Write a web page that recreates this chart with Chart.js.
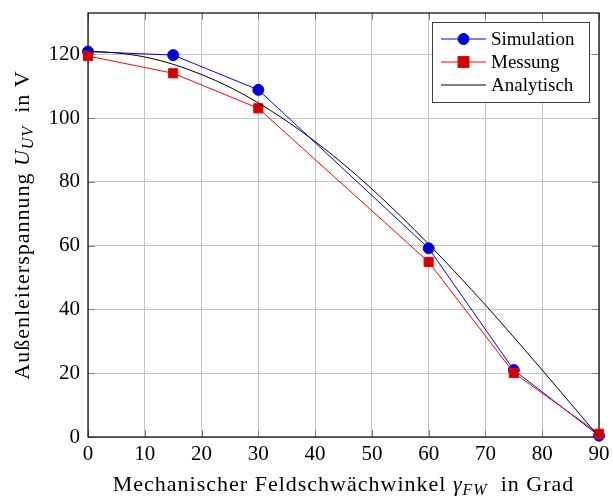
<!DOCTYPE html>
<html lang="de">
<head>
<meta charset="UTF-8">
<title>Außenleiterspannung</title>
<script src="https://cdn.jsdelivr.net/npm/chart.js"></script>
<style>
  html, body { margin: 0; padding: 0; background: #fff; }
  #wrap { width: 613px; height: 497px; }
</style>
</head>
<body>
<div id="wrap"><canvas id="chart" width="613" height="497"></canvas></div>
<script>
// Messpunkte, Winkel in Grad
var winkel = [0, 15, 30, 60, 75, 90];
var simulation = [120.9, 119.8, 108.9, 59.2, 21.0, 0.4];
var messung = [119.5, 114.1, 103.1, 54.9, 20.1, 1.0];

// analytische Kurve (alle 5 Grad)
var winkelAnalytisch = [0, 5, 10, 15, 20, 25, 30, 35, 40, 45, 50, 55, 60, 65, 70, 75, 80, 85, 90];
var analytisch = [121.0, 120.5, 119.2, 116.9, 113.7, 109.7, 104.8, 99.1, 92.7, 85.6, 77.8, 69.4, 60.5, 51.1, 41.4, 31.3, 21.0, 10.5, 0.0];

var xTicks = [0, 10, 20, 30, 40, 50, 60, 70, 80, 90];
var yTicks = [0, 20, 40, 60, 80, 100, 120];

var serif = "'Liberation Serif', 'Times New Roman', serif";
var fs = 21;

function toXY(xs, ys) {
  var out = [];
  for (var i = 0; i < xs.length; i++) out.push({ x: xs[i], y: ys[i] });
  return out;
}

// Text mit Index (z.B. U_UV) zeichnen
function drawMixed(ctx, parts, cx, baseline) {
  var total = 0;
  ctx.letterSpacing = "1px";
  parts.forEach(function (p) {
    ctx.font = p.font;
    p.w = ctx.measureText(p.t).width;
    total += p.w;
  });
  var x = cx - total / 2;
  ctx.textBaseline = "alphabetic";
  ctx.textAlign = "left";
  parts.forEach(function (p) {
    ctx.font = p.font;
    ctx.fillText(p.t, x, baseline + (p.dy || 0));
    x += p.w;
  });
  ctx.letterSpacing = "0px";
}

var rahmen = {
  id: "rahmen",
  beforeDatasetsDraw: function (chart) {
    var ctx = chart.ctx, a = chart.chartArea;
    var sx = chart.scales.x, sy = chart.scales.y;
    ctx.save();
    // innere Ticks
    ctx.strokeStyle = "#808080";
    ctx.lineWidth = 1;
    var tl = 7;
    ctx.beginPath();
    xTicks.forEach(function (v) {
      var px = Math.round(sx.getPixelForValue(v)) + 0.5;
      ctx.moveTo(px, a.bottom); ctx.lineTo(px, a.bottom - tl);
      ctx.moveTo(px, a.top); ctx.lineTo(px, a.top + tl);
    });
    yTicks.forEach(function (v) {
      var py = Math.round(sy.getPixelForValue(v)) + 0.5;
      ctx.moveTo(a.left, py); ctx.lineTo(a.left + tl, py);
      ctx.moveTo(a.right, py); ctx.lineTo(a.right - tl, py);
    });
    ctx.stroke();
    // Rahmen
    ctx.strokeStyle = "#000";
    ctx.lineWidth = 1.2;
    ctx.strokeRect(a.left, a.top, a.right - a.left, a.bottom - a.top);
    ctx.restore();
  },
  afterDraw: function (chart) {
    var ctx = chart.ctx, a = chart.chartArea;
    ctx.save();
    ctx.fillStyle = "#000";
    var tfs = 22;
    var nf = tfs + "px " + serif;
    var itf = "italic " + tfs + "px " + serif;
    var subf = "italic " + Math.round(tfs * 0.72) + "px " + serif;

    // x-Achsentitel
    drawMixed(ctx, [
      { t: "Mechanischer Feldschwächwinkel ", font: nf },
      { t: "γ", font: itf },
      { t: "FW", font: subf, dy: 4 },
      { t: "  in Grad", font: nf }
    ], (a.left + a.right) / 2, 491);

    // y-Achsentitel
    ctx.save();
    ctx.translate(29, (a.top + a.bottom) / 2);
    ctx.rotate(-Math.PI / 2);
    drawMixed(ctx, [
      { t: "Außenleiterspannung ", font: nf },
      { t: "U", font: itf },
      { t: "UV", font: subf, dy: 4 },
      { t: "  in V", font: nf }
    ], 0, 0);
    ctx.restore();

    // Legende
    var bx = 432, by = 22, bw = 157, bh = 80;
    ctx.fillStyle = "#fff";
    ctx.fillRect(bx, by, bw, bh);
    ctx.strokeStyle = "#404040";
    ctx.lineWidth = 1;
    ctx.strokeRect(bx + 0.5, by + 0.5, bw, bh);
    var rows = [
      { label: "Simulation", line: "#0000ff", mark: "circle", y: 39 },
      { label: "Messung", line: "#ff0000", mark: "rect", y: 62 },
      { label: "Analytisch", line: "#000000", mark: null, y: 85 }
    ];
    rows.forEach(function (r) {
      ctx.strokeStyle = r.line;
      ctx.lineWidth = 1;
      ctx.beginPath();
      ctx.moveTo(441, r.y); ctx.lineTo(486, r.y);
      ctx.stroke();
      if (r.mark === "circle") {
        ctx.fillStyle = "#0000cc";
        ctx.beginPath();
        ctx.arc(463.5, r.y, 5.5, 0, Math.PI * 2);
        ctx.fill();
        ctx.stroke();
      } else if (r.mark === "rect") {
        ctx.fillStyle = "#cc0000";
        ctx.fillRect(458, r.y - 5.5, 11, 11);
        ctx.strokeRect(458, r.y - 5.5, 11, 11);
      }
      ctx.fillStyle = "#000";
      ctx.font = fs - 2 + "px " + serif;
      ctx.textAlign = "left";
      ctx.textBaseline = "middle";
      ctx.fillText(r.label, 491, r.y + 1);
    });
    ctx.restore();
  }
};

new Chart(document.getElementById("chart"), {
  type: "line",
  data: {
    datasets: [
      {
        label: "Simulation",
        data: toXY(winkel, simulation),
        borderColor: "#0000ff",
        backgroundColor: "#0000cc",
        pointBorderColor: "#0000ff",
        pointBackgroundColor: "#0000cc",
        pointStyle: "circle",
        pointRadius: 5.5,
        borderWidth: 1,
        pointBorderWidth: 1,
        tension: 0,
        clip: false,
        order: 3
      },
      {
        label: "Messung",
        data: toXY(winkel, messung),
        borderColor: "#ff0000",
        backgroundColor: "#cc0000",
        pointBorderColor: "#ff0000",
        pointBackgroundColor: "#cc0000",
        pointStyle: "rect",
        pointRadius: 6.5,
        borderWidth: 1,
        pointBorderWidth: 1,
        tension: 0,
        clip: false,
        order: 2
      },
      {
        label: "Analytisch",
        data: toXY(winkelAnalytisch, analytisch),
        borderColor: "#000000",
        borderWidth: 1,
        pointRadius: 0,
        cubicInterpolationMode: "monotone",
        clip: false,
        order: 1
      }
    ]
  },
  options: {
    responsive: false,
    animation: false,
    devicePixelRatio: 1,
    layout: { padding: { left: 0, right: 14, top: 13, bottom: 0 } },
    plugins: {
      legend: { display: false },
      tooltip: { enabled: false }
    },
    scales: {
      x: {
        type: "linear",
        min: 0,
        max: 90,
        afterBuildTicks: function (s) { s.ticks = xTicks.map(function (v) { return { value: v }; }); },
        afterFit: function (s) {
          s.height = 60;
          s.paddingLeft = 0; s.paddingRight = 0;
        },
        grid: { color: "#c4c4c4", drawTicks: false },
        border: { display: false },
        ticks: { color: "#000", font: { family: serif, size: fs }, padding: 5, maxRotation: 0 }
      },
      y: {
        min: 0,
        max: 133,
        afterBuildTicks: function (s) { s.ticks = yTicks.map(function (v) { return { value: v }; }); },
        afterFit: function (s) {
          s.width = 88;
          s.paddingTop = 0; s.paddingBottom = 0;
        },
        grid: { color: "#c4c4c4", drawTicks: false },
        border: { display: false },
        ticks: { color: "#000", font: { family: serif, size: fs }, padding: 8 }
      }
    }
  },
  plugins: [rahmen]
});
</script>
</body>
</html>
